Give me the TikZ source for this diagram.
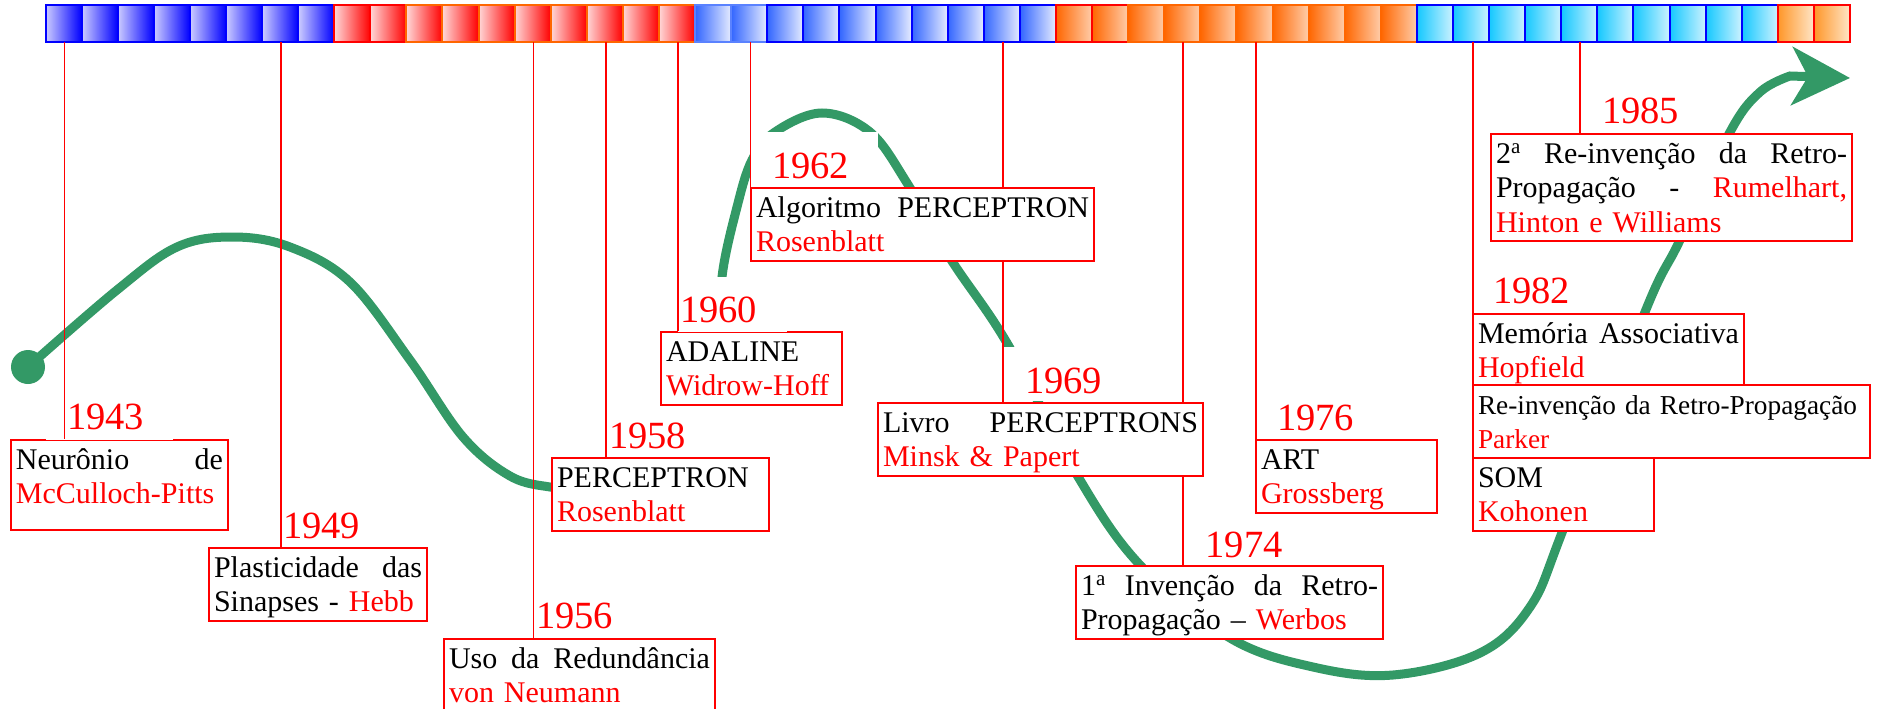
\documentclass[tikz,border=0pt]{standalone}
\usepackage{fontspec}
\setmainfont{Liberation Serif}
\usetikzlibrary{arrows.meta}

\definecolor{curvegreen}{RGB}{51,153,102}
\definecolor{blueL}{RGB}{205,205,255}
\definecolor{redL}{RGB}{255,215,215}
\definecolor{orngB}{RGB}{255,102,0}
\definecolor{royal}{RGB}{51,102,255}
\definecolor{royalL}{RGB}{230,236,255}
\definecolor{blueB}{RGB}{90,130,255}
\definecolor{orng}{RGB}{255,102,0}
\definecolor{orngL}{RGB}{255,205,170}
\definecolor{sky}{RGB}{20,200,255}
\definecolor{skyL}{RGB}{205,242,255}
\definecolor{amber}{RGB}{255,150,40}
\definecolor{amberL}{RGB}{255,230,200}

\newcommand\boxfont{\fontsize{30pt}{34.5pt}\selectfont}
\newcommand\smallboxfont{\fontsize{27.3pt}{34.5pt}\selectfont}
\newcommand\yrfont{\fontsize{38.5pt}{40pt}\selectfont}
\newcommand\bstrut{\rule[-7pt]{0pt}{34pt}}
\newcommand\nome[1]{\textcolor{red}{#1}}

\tikzset{
	box/.style={draw=red, line width=2pt, fill=white, anchor=north west, align=left,
		inner xsep=5pt, inner ysep=2pt, font=\boxfont,
		execute at begin node=\bstrut, execute at end node=\bstrut},
	yr/.style={fill=white, text=red, anchor=base west, align=left, font=\yrfont,
		inner xsep=21pt, inner ysep=0pt, text width=85pt, text height=40pt, text depth=7.5pt},
	link/.style={draw=red, line width=1.8pt},
	curve/.style={draw=curvegreen, line width=9pt},
}

\begin{document}
\begin{tikzpicture}[x=1pt, y=-1pt]
			
			\useasboundingbox (0,0) rectangle (1881,709);
			
			%Strip of years
			\foreach \from/\to/\lft/\rgt/\brd in {0/7/blueL/blue/blue, 8/9/redL/red/red,
				10/17/redL/red/orngB, 18/19/royal/royalL/blueB, 20/27/royal/royalL/blue,
				28/29/orng/orngL/red, 30/37/orng/orngL/orngB, 38/47/sky/skyL/blue,
				48/49/amber/amberL/red}
			\foreach \i in {\from,...,\to}{
				\shade[left color=\lft, right color=\rgt] ({45.5+36.09*\i},5) rectangle ({45.5+36.09*(\i+1)},42.5);
				\draw[\brd, line width=2pt] ({45.5+36.09*\i},5) rectangle ({45.5+36.09*(\i+1)},42.5);
			}
			
			%Curve
			\draw[curve] plot[smooth, tension=0.6] coordinates {(28,367) (117,290) (177,247) (233,237)
				(290,247) (350,282) (410,360) (463,437) (510,476) (550,487) (580,488)};
			\node (start) at (28,367) [circle, fill=curvegreen, inner sep=0pt, minimum size=34pt]{};
			\draw[curve, -{Stealth[length=58pt, width=58pt, inset=16pt]}] plot[smooth, tension=0.6]
				coordinates {(722,340) (722,277) (737,207) (752,160) (775,132) (822,113) (870,132)
				(907,183) (950,258) (1007,343) (1077,475) (1140,565) (1230,638) (1313,667) (1393,675)
				(1480,653) (1530,607) (1563,530) (1645,312) (1680,240) (1730,132) (1760,92) (1790,76)}
				-- (1850,78);
			
			%Ticks on the strip
			\coordinate (t1943) at (64.5,42.5);
			\coordinate (t1949) at (281,42.5);
			\coordinate (t1956) at (533.5,42.5);
			\coordinate (t1958) at (606,42.5);
			\coordinate (t1960) at (678,42.5);
			\coordinate (t1962) at (750.5,42.5);
			\coordinate (t1969) at (1003,42.5);
			\coordinate (t1974) at (1183,42.5);
			\coordinate (t1976) at (1256,42.5);
			\coordinate (t1982) at (1473,42.5);
			\coordinate (t1985) at (1580,42.5);
			
			%Corners of the boxes that hide links
			\coordinate (p1969) at (877,402);
			\coordinate (p1974) at (1075,565);
			
			%Boxes
			\node (b1943) at (10,439) [box, text width=207pt]{Neurônio\hfill de\\\nome{McCulloch-Pitts}\\[-17pt]\mbox{}};
			\node (b1949) at (208,547) [box, text width=208pt]{Plasticidade\hfill das\\Sinapses - \nome{Hebb}};
			\node (b1956) at (443,638) [box, text width=261pt]{Uso\hfill da\hfill Redundância\\\nome{von Neumann}};
			\node (b1958) at (551,457) [box, text width=207pt]{PERCEPTRON\\\nome{Rosenblatt}};
			\node (b1960) at (660,331) [box, text width=171pt]{ADALINE\\\nome{Widrow-Hoff}};
			
			%Links behind the boxes
			\draw[link] (t1969) -- (t1969 |- p1969);
			\draw[link] (t1974) -- (t1974 |- p1974);
			
			\node (b1962) at (750,187) [box, text width=333pt]{Algoritmo\hfill PERCEPTRON\\\nome{Rosenblatt}};
			\node (b1969) at (p1969) [box, text width=315pt]{Livro\hfill PERCEPTRONS\\\nome{Minsk \& Papert}};
			\node (b1974) at (p1974) [box, text width=297pt]{1\textsuperscript{a}\hfill Invenção\hfill da\hfill Retro-\\Propagação – \nome{Werbos}};
			\node (b1976) at (1255,439) [box, text width=171pt]{ART\\\nome{Grossberg}};
			\node (b1985) at (1490,133) [box, text width=351pt]{2\textsuperscript{a}\hfill Re-invenção\hfill da\hfill Retro-\\Propagação\hfill -\hfill \nome{Rumelhart,}\\\nome{Hinton e Williams}};
			\node (b1982) at (1472,313) [box, text width=261pt]{Memória\hfill Associativa\\\nome{Hopfield}};
			\node (bParker) at (1472,384) [box, text width=387pt, font=\smallboxfont]{Re-invenção da Retro-Propagação\\\nome{Parker}};
			\node (bSOM) at (1472,457) [box, text width=171pt]{SOM\\\nome{Kohonen}};
			
			%Years
			\node (y1943) at (46,429) [yr, text depth=11pt]{1943};
			\node (y1949) at (262,538) [yr]{1949};
			\node (y1956) at (515,628) [yr]{1956};
			\node (y1958) at (588,448) [yr]{1958};
			\node (y1960) at (678,322) [yr, inner xsep=2pt, text width=105pt, text height=45pt, text depth=10pt]{1960};
			\node (y1962) at (751,178) [yr, text height=46pt]{1962};
			\node (y1969) at (1004,393) [yr, text height=46pt]{1969};
			\node (y1974) at (1184.5,557) [yr]{1974};
			\node (y1976) at (1256,430) [yr]{1976};
			\node (y1982) at (1472,303) [yr]{1982};
			\node (y1985) at (1581,123) [yr]{1985};
			
			%Links
			\draw[link] (t1943) -- (t1943 |- b1943.north);
			\draw[link] (t1949) -- (t1949 |- b1949.north);
			\draw[link] (t1956) -- (t1956 |- b1956.north);
			\draw[link] (t1958) -- (t1958 |- b1958.north);
			\draw[link] (t1960) -- (t1960 |- b1960.north);
			\draw[link] (t1962) -- (t1962 |- b1962.north);
			\draw[link] (t1976) -- (t1976 |- b1976.north);
			\draw[link] (t1982) -- (t1982 |- b1982.north);
			\draw[link] (t1985) -- (t1985 |- b1985.north);
			
\end{tikzpicture}
\end{document}
